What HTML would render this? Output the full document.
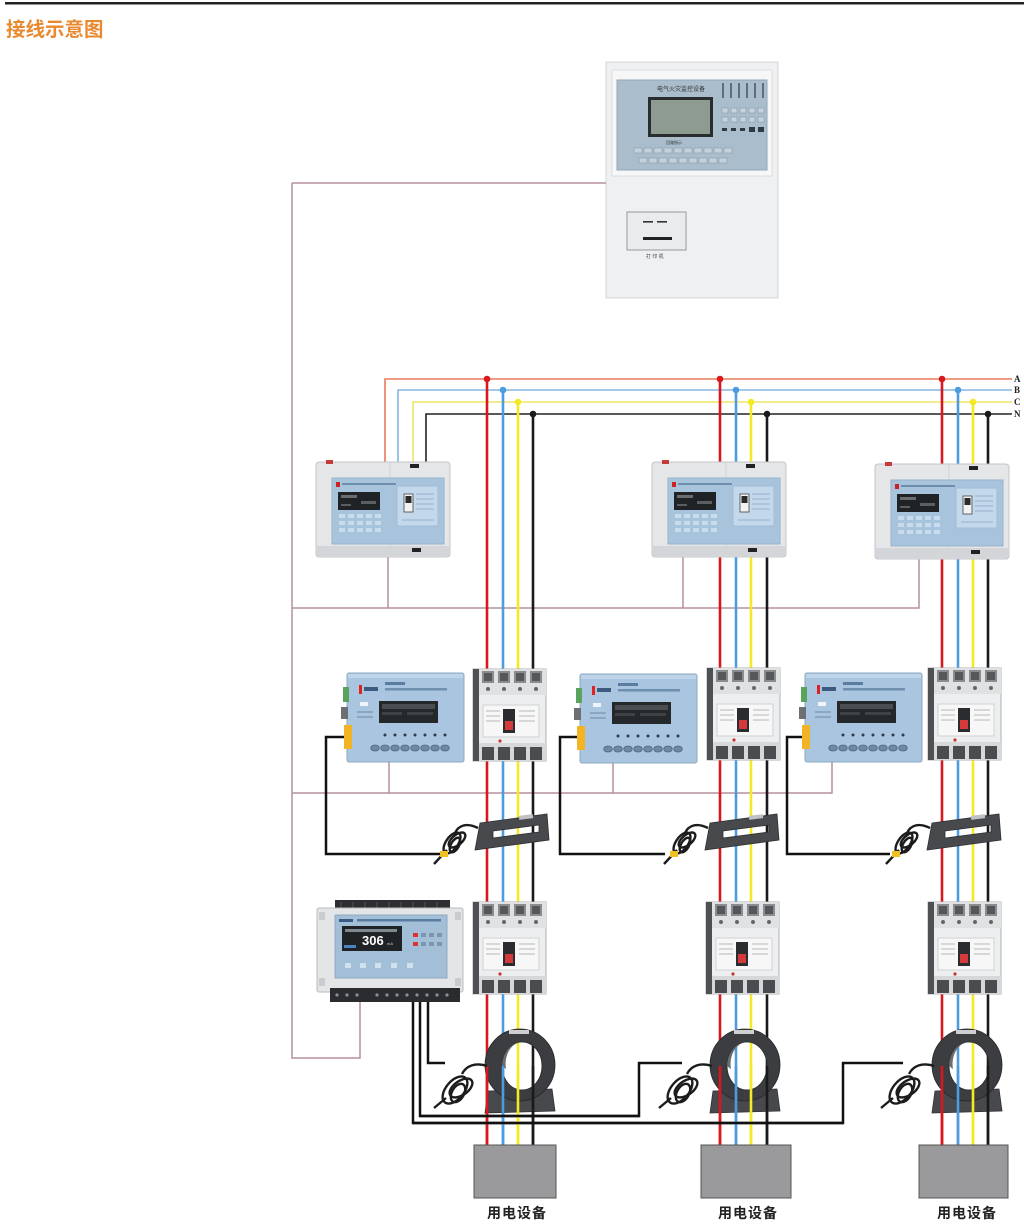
<!DOCTYPE html>
<html><head><meta charset="utf-8">
<style>
html,body{margin:0;padding:0;background:#fff;}
svg{display:block;}
</style></head><body>
<svg width="1024" height="1226" viewBox="0 0 1024 1226" xmlns="http://www.w3.org/2000/svg" xmlns:xlink="http://www.w3.org/1999/xlink">
<defs>
  <g id="devA">
    <rect x="0" y="2" width="134" height="95" rx="3" fill="#e4e6e8" stroke="#c2c4c7"/>
    <rect x="1" y="86" width="132" height="10" fill="#d3d5d8"/>
    <line x1="74" y1="3" x2="74" y2="96" stroke="#d0d2d5"/>
    <rect x="10" y="0" width="7" height="4" fill="#c83a3a"/>
    <rect x="16" y="18" width="112" height="66" fill="#a8c4dd" stroke="#98b3cc"/>
    <rect x="20" y="22" width="4" height="5" fill="#c22"/>
    <line x1="26" y1="24" x2="80" y2="24" stroke="#4a6c90" stroke-width="1.2"/>
    <rect x="22" y="32" width="42" height="18" fill="#1f2325"/>
    <rect x="25" y="35" width="16" height="3" fill="#6a6d70"/>
    <rect x="45" y="41" width="15" height="3" fill="#5c5f62"/>
    <rect x="25" y="44" width="10" height="2" fill="#5c5f62"/>
    <g fill="#c8dcee">
      <rect x="23" y="54" width="6" height="4"/><rect x="32" y="54" width="6" height="4"/><rect x="41" y="54" width="6" height="4"/><rect x="50" y="54" width="6" height="4"/><rect x="59" y="54" width="6" height="4"/>
      <rect x="23" y="61" width="6" height="4"/><rect x="32" y="61" width="6" height="4"/><rect x="41" y="61" width="6" height="4"/><rect x="50" y="61" width="6" height="4"/><rect x="59" y="61" width="6" height="4"/>
      <rect x="23" y="68" width="6" height="4"/><rect x="32" y="68" width="6" height="4"/><rect x="41" y="68" width="6" height="4"/><rect x="50" y="68" width="6" height="4"/><rect x="59" y="68" width="6" height="4"/>
    </g>
    <rect x="81" y="26" width="41" height="40" fill="#c3d8eb" stroke="#9fbcd6"/>
    <rect x="88" y="34" width="9" height="18" fill="#f2f2f2" stroke="#444" stroke-width="0.8"/>
    <rect x="89.5" y="36" width="6" height="7" fill="#2a2a2a"/>
    <g stroke="#86a6c4" stroke-width="0.8">
      <line x1="100" y1="34" x2="118" y2="34"/><line x1="100" y1="39" x2="118" y2="39"/><line x1="100" y1="44" x2="118" y2="44"/><line x1="100" y1="49" x2="118" y2="49"/><line x1="86" y1="60" x2="118" y2="60"/>
    </g>
    <rect x="94" y="4" width="9" height="4" fill="#222"/>
    <rect x="96" y="88" width="9" height="4" fill="#222"/>
  </g>
  <g id="devB">
    <rect x="0" y="0" width="117" height="89" rx="2" fill="#a9c5df" stroke="#8ea9c2"/>
    <rect x="1" y="1" width="115" height="4" fill="#bed4e8"/>
    <rect x="12" y="12" width="3" height="9" fill="#d22"/>
    <rect x="17" y="14" width="14" height="4" fill="#3b5b80"/>
    <rect x="38" y="9" width="20" height="3" fill="#5a7ca0"/>
    <rect x="38" y="15" width="62" height="2.5" fill="#6f8fb0"/>
    <rect x="13" y="29" width="8" height="4" fill="#eef4fa"/>
    <rect x="10" y="38" width="16" height="2" fill="#8aa6c0"/>
    <rect x="10" y="43" width="16" height="2" fill="#8aa6c0"/>
    <rect x="32" y="28" width="59" height="22" fill="#24282a"/>
    <rect x="35" y="31" width="53" height="5" fill="#4a4e51"/>
    <rect x="35" y="39" width="20" height="3" fill="#3e4245"/>
    <rect x="60" y="39" width="26" height="3" fill="#3e4245"/>
    <g fill="#2d3b4a">
      <circle cx="38" cy="62" r="1.5"/><circle cx="48" cy="62" r="1.5"/><circle cx="58" cy="62" r="1.5"/><circle cx="68" cy="62" r="1.5"/><circle cx="78" cy="62" r="1.5"/><circle cx="88" cy="62" r="1.5"/><circle cx="98" cy="62" r="1.5"/>
    </g>
    <g fill="#7088a2" stroke="#4f6680" stroke-width="0.8">
      <ellipse cx="28" cy="75" rx="4.3" ry="3"/><ellipse cx="38" cy="75" rx="4.3" ry="3"/><ellipse cx="48" cy="75" rx="4.3" ry="3"/><ellipse cx="58" cy="75" rx="4.3" ry="3"/><ellipse cx="68" cy="75" rx="4.3" ry="3"/><ellipse cx="78" cy="75" rx="4.3" ry="3"/><ellipse cx="88" cy="75" rx="4.3" ry="3"/><ellipse cx="98" cy="75" rx="4.3" ry="3"/>
    </g>
    <rect x="-4" y="14" width="6" height="15" fill="#5aa35c"/>
    <rect x="-6" y="34" width="7" height="12" fill="#6d6f72"/>
    <rect x="-3" y="52" width="8" height="24" fill="#f2b324"/>
  </g>
  <g id="brk">
    <rect x="0" y="0" width="73" height="92" fill="#eceef0" stroke="#aeb0b3"/>
    <rect x="0" y="0" width="6" height="92" fill="#4e5054"/>
    <rect x="6" y="0" width="67" height="26" fill="#dfe1e3"/>
    <g fill="#8a8c90"><rect x="9" y="2" width="12" height="12"/><rect x="25" y="2" width="12" height="12"/><rect x="41" y="2" width="12" height="12"/><rect x="57" y="2" width="12" height="12"/></g>
    <g fill="#55575b"><rect x="11" y="4" width="8" height="8"/><rect x="27" y="4" width="8" height="8"/><rect x="43" y="4" width="8" height="8"/><rect x="59" y="4" width="8" height="8"/></g>
    <g fill="#666"><circle cx="15" cy="20" r="2"/><circle cx="31" cy="20" r="2"/><circle cx="47" cy="20" r="2"/><circle cx="63" cy="20" r="2"/></g>
    <rect x="10" y="36" width="56" height="32" fill="#f7f7f7" stroke="#cfd1d3"/>
    <g stroke="#9a9c9f" stroke-width="0.7"><line x1="13" y1="42" x2="27" y2="42"/><line x1="13" y1="47" x2="27" y2="47"/><line x1="13" y1="52" x2="27" y2="52"/><line x1="46" y1="42" x2="62" y2="42"/><line x1="46" y1="47" x2="62" y2="47"/><line x1="46" y1="52" x2="62" y2="52"/></g>
    <rect x="30" y="40" width="12" height="24" fill="#2a2c30"/>
    <rect x="32" y="52" width="8" height="9" fill="#d43a3a"/>
    <circle cx="27" cy="72" r="1.6" fill="#c33"/>
    <rect x="6" y="74" width="67" height="18" fill="#d6d8da"/>
    <g fill="#4a4c50"><rect x="9" y="78" width="12" height="13"/><rect x="25" y="78" width="12" height="13"/><rect x="41" y="78" width="12" height="13"/><rect x="57" y="78" width="12" height="13"/></g>
  </g>
  <g id="rct">
    <path fill-rule="evenodd" fill="#47494c" stroke="#2e3033" stroke-width="0.8" d="M7,10 L74,1 L76,27 L2,37 Z M20,18 L66,12 L66,19 L20,25 Z"/>
    <rect x="46" y="2" width="14" height="4" fill="#bfc1c4" transform="rotate(-7 53 4)"/>
  </g>
  <g id="ring">
    <polygon points="3,62 67,60 70,82 0,84" fill="#47494c" stroke="#2e3033" stroke-width="0.8"/>
    <path fill-rule="evenodd" fill="#3b3d40" stroke="#26282a" stroke-width="0.8" d="M0,36 A35,36 0 1,0 70,36 A35,36 0 1,0 0,36 Z M17,37 A20,24 0 1,0 57,37 A20,24 0 1,0 17,37 Z"/>
    <path d="M17,37 A20,24 0 0,1 37,13 A17,22 0 0,0 21,40 Z" fill="#6a6d71"/>
    <rect x="24" y="1" width="20" height="4" fill="#cfcfcf"/>
  </g>
</defs>

<rect width="1024" height="1226" fill="#fff"/>
<rect x="5" y="2" width="1019" height="2.5" fill="#222"/>
<text x="6" y="36" font-family="Liberation Sans, Noto Sans CJK SC, sans-serif" font-size="19.5" font-weight="bold" fill="#e8892f">接线示意图</text>

<rect x="606" y="62" width="172" height="236" fill="#eef0f1" stroke="#d4d6d8"/>
<rect x="612" y="70" width="160" height="106" fill="#f7f7f7" stroke="#dcdcdc"/>
<rect x="617" y="80" width="150" height="90" fill="#a9bdcc" stroke="#93a7b7"/>
<text x="657" y="91" font-family="Liberation Sans, Noto Sans CJK SC, sans-serif" font-size="6" fill="#333">电气火灾监控设备</text>
<rect x="648" y="97" width="65" height="40" fill="#2a2d2e"/>
<rect x="651" y="100" width="59" height="34" fill="#8d9b90"/>
<g fill="#5d6f7e">
  <rect x="722" y="83" width="2" height="15"/><rect x="730" y="83" width="2" height="15"/><rect x="738" y="83" width="2" height="15"/><rect x="746" y="83" width="2" height="15"/><rect x="754" y="83" width="2" height="15"/><rect x="762" y="83" width="2" height="15"/>
</g>
<g fill="#c5d3de" stroke="#7f93a3" stroke-width="0.5">
  <rect x="722" y="108" width="6" height="5"/><rect x="731" y="108" width="6" height="5"/><rect x="740" y="108" width="6" height="5"/><rect x="749" y="108" width="6" height="5"/><rect x="758" y="108" width="6" height="5"/>
  <rect x="722" y="117" width="6" height="5"/><rect x="731" y="117" width="6" height="5"/><rect x="740" y="117" width="6" height="5"/><rect x="749" y="117" width="6" height="5"/><rect x="758" y="117" width="6" height="5"/>
</g>
<g fill="#2e3a44"><rect x="722" y="128" width="5" height="3"/><rect x="731" y="128" width="5" height="3"/><rect x="740" y="128" width="5" height="3"/><rect x="749" y="127" width="6" height="5"/><rect x="758" y="127" width="6" height="5"/></g>
<text x="666" y="144" font-family="Liberation Sans, Noto Sans CJK SC, sans-serif" font-size="4" fill="#333">回路指示</text>
<g fill="#c3d1dc" stroke="#8194a4" stroke-width="0.5">
  <rect x="634" y="148" width="8" height="5"/><rect x="644" y="148" width="8" height="5"/><rect x="654" y="148" width="8" height="5"/><rect x="664" y="148" width="8" height="5"/><rect x="674" y="148" width="8" height="5"/><rect x="684" y="148" width="8" height="5"/><rect x="694" y="148" width="8" height="5"/><rect x="704" y="148" width="8" height="5"/><rect x="714" y="148" width="8" height="5"/><rect x="724" y="148" width="8" height="5"/>
  <rect x="639" y="158" width="8" height="5"/><rect x="649" y="158" width="8" height="5"/><rect x="659" y="158" width="8" height="5"/><rect x="669" y="158" width="8" height="5"/><rect x="679" y="158" width="8" height="5"/><rect x="689" y="158" width="8" height="5"/><rect x="699" y="158" width="8" height="5"/><rect x="709" y="158" width="8" height="5"/><rect x="719" y="158" width="8" height="5"/>
</g>
<rect x="627" y="212" width="59" height="38" fill="#e9ebec" stroke="#999"/>
<rect x="643" y="221" width="10" height="1.6" fill="#333"/><rect x="657" y="221" width="10" height="1.6" fill="#333"/>
<rect x="643" y="237" width="29" height="3" fill="#222"/>
<text x="646" y="258" font-family="Liberation Sans, Noto Sans CJK SC, sans-serif" font-size="5" fill="#444">打 印 机</text>

<g stroke="#b58f9e" stroke-width="1.5" fill="none">
  <path d="M292,183 H606"/>
  <path d="M292,183 V1058 H360 V1002"/>
  <path d="M292,608 H919 V557"/>
  <path d="M388,608 V555"/>
  <path d="M683,608 V557"/>
  <path d="M292,793 H832 V762"/>
  <path d="M389,793 V762"/>
  <path d="M613,793 V760"/>
</g>

<g fill="none" stroke-width="1.6">
  <path d="M385,462 V379 H1012" stroke="#e87a5c"/>
  <path d="M398,462 V390 H1012" stroke="#86b6e2"/>
  <path d="M413,462 V402 H1012" stroke="#efe566"/>
  <path d="M426,462 V414 H1012" stroke="#222"/>
</g>
<g font-family="Liberation Serif, serif" font-size="9" font-weight="bold" fill="#222">
  <text x="1014" y="382">A</text><text x="1014" y="393">B</text><text x="1014" y="405">C</text><text x="1014" y="417">N</text>
</g>

<g stroke-width="2.6" fill="none">
  <path d="M487,379 V1145" stroke="#d7191f"/><path d="M503,390 V1145" stroke="#4d9be0"/><path d="M518,402 V1145" stroke="#f4e925"/><path d="M533,414 V1145" stroke="#1a1a1a"/>
  <path d="M720,379 V1145" stroke="#d7191f"/><path d="M736,390 V1145" stroke="#4d9be0"/><path d="M751,402 V1145" stroke="#f4e925"/><path d="M767,414 V1145" stroke="#1a1a1a"/>
  <path d="M942,379 V1145" stroke="#d7191f"/><path d="M958,390 V1145" stroke="#4d9be0"/><path d="M973,402 V1145" stroke="#f4e925"/><path d="M988,414 V1145" stroke="#1a1a1a"/>
</g>
<g>
  <circle cx="487" cy="379" r="3.3" fill="#d7191f"/><circle cx="503" cy="390" r="3.3" fill="#4d9be0"/><circle cx="518" cy="402" r="3.3" fill="#f4e925"/><circle cx="533" cy="414" r="3.3" fill="#1a1a1a"/>
  <circle cx="720" cy="379" r="3.3" fill="#d7191f"/><circle cx="736" cy="390" r="3.3" fill="#4d9be0"/><circle cx="751" cy="402" r="3.3" fill="#f4e925"/><circle cx="767" cy="414" r="3.3" fill="#1a1a1a"/>
  <circle cx="942" cy="379" r="3.3" fill="#d7191f"/><circle cx="958" cy="390" r="3.3" fill="#4d9be0"/><circle cx="973" cy="402" r="3.3" fill="#f4e925"/><circle cx="988" cy="414" r="3.3" fill="#1a1a1a"/>
</g>

<use href="#devA" xlink:href="#devA" x="316" y="460"/>
<use href="#devA" xlink:href="#devA" x="652" y="460"/>
<use href="#devA" xlink:href="#devA" x="875" y="462"/>

<g stroke="#111" stroke-width="2.5" fill="none">
  <path d="M346,737 H326 V854 H443"/>
  <path d="M580,737 H560 V854 H665"/>
  <path d="M805,737 H787 V854 H890"/>
</g>
<use href="#devB" xlink:href="#devB" x="347" y="673"/>
<use href="#devB" xlink:href="#devB" x="580" y="674"/>
<use href="#devB" xlink:href="#devB" x="805" y="673"/>
<use href="#brk" xlink:href="#brk" x="473" y="669"/>
<use href="#brk" xlink:href="#brk" x="707" y="668"/>
<use href="#brk" xlink:href="#brk" x="928" y="668"/>
<use href="#rct" xlink:href="#rct" x="473" y="813"/>
<use href="#rct" xlink:href="#rct" x="703" y="813"/>
<use href="#rct" xlink:href="#rct" x="925" y="813"/>
<g stroke="#1c1c1c" stroke-width="2.4" fill="none">
  <path d="M478,828 C466,822 458,826 455,833"/>
  <ellipse cx="452" cy="843" rx="12" ry="6" transform="rotate(-55 452 843)"/>
  <ellipse cx="457" cy="840" rx="10" ry="5" transform="rotate(-40 457 840)"/>
  <ellipse cx="455" cy="845" rx="8" ry="4" transform="rotate(-60 455 845)"/>
  <path d="M447,850 L434,864"/>
  <path d="M708,828 C696,822 688,826 685,833"/>
  <ellipse cx="682" cy="843" rx="12" ry="6" transform="rotate(-55 682 843)"/>
  <ellipse cx="687" cy="840" rx="10" ry="5" transform="rotate(-40 687 840)"/>
  <ellipse cx="685" cy="845" rx="8" ry="4" transform="rotate(-60 685 845)"/>
  <path d="M677,850 L664,864"/>
  <path d="M930,828 C918,822 910,826 907,833"/>
  <ellipse cx="904" cy="843" rx="12" ry="6" transform="rotate(-55 904 843)"/>
  <ellipse cx="909" cy="840" rx="10" ry="5" transform="rotate(-40 909 840)"/>
  <ellipse cx="907" cy="845" rx="8" ry="4" transform="rotate(-60 907 845)"/>
  <path d="M899,850 L886,864"/>
</g>
<rect x="440" y="851" width="8" height="6" fill="#f0c020"/>
<rect x="670" y="851" width="8" height="6" fill="#f0c020"/>
<rect x="892" y="851" width="8" height="6" fill="#f0c020"/>

<g stroke="#111" stroke-width="2.5" fill="none">
  <path d="M428,1002 V1063 H445"/>
  <path d="M420,1002 V1116 H639 V1063 H682"/>
  <path d="M413,1002 V1123 H843 V1063 H903"/>
</g>

<g transform="translate(317,900)">
  <rect x="18" y="0" width="115" height="12" fill="#2c2e31"/>
  <g stroke="#55585c" stroke-width="1"><line x1="24" y1="2" x2="24" y2="10"/><line x1="36" y1="2" x2="36" y2="10"/><line x1="48" y1="2" x2="48" y2="10"/><line x1="60" y1="2" x2="60" y2="10"/><line x1="72" y1="2" x2="72" y2="10"/><line x1="84" y1="2" x2="84" y2="10"/><line x1="96" y1="2" x2="96" y2="10"/><line x1="108" y1="2" x2="108" y2="10"/><line x1="120" y1="2" x2="120" y2="10"/></g>
  <rect x="0" y="8" width="146" height="84" rx="2" fill="#e3e5e7" stroke="#b9bbbe"/>
  <rect x="2" y="12" width="6" height="8" fill="#c9cbce"/><rect x="138" y="12" width="6" height="8" fill="#c9cbce"/>
  <rect x="2" y="78" width="6" height="8" fill="#c9cbce"/><rect x="138" y="78" width="6" height="8" fill="#c9cbce"/>
  <rect x="18" y="15" width="112" height="63" fill="#a3bfd7" stroke="#8eaac3"/>
  <rect x="22" y="19" width="14" height="3" fill="#3b5b80"/>
  <rect x="40" y="19" width="84" height="2.5" fill="#5a7ca0"/>
  <rect x="25" y="26" width="60" height="25" fill="#1f2326"/>
  <rect x="28" y="29" width="52" height="3" fill="#7e8a90"/>
  <text x="45" y="45" font-family="Liberation Sans, sans-serif" font-size="13" font-weight="bold" fill="#fff">306</text>
  <text x="70" y="45" font-family="Liberation Sans, sans-serif" font-size="4" fill="#ccc">mA</text>
  <rect x="27" y="45" width="12" height="3" fill="#4d82c0"/>
  <g fill="#d33"><rect x="96" y="33" width="5" height="4"/><rect x="96" y="42" width="5" height="4"/></g>
  <g fill="#7b95ad"><rect x="104" y="33" width="5" height="4"/><rect x="112" y="33" width="5" height="4"/><rect x="120" y="33" width="5" height="4"/><rect x="104" y="42" width="5" height="4"/><rect x="112" y="42" width="5" height="4"/><rect x="120" y="42" width="5" height="4"/></g>
  <g fill="#cfe0ee"><rect x="28" y="63" width="6" height="5"/><rect x="43" y="63" width="6" height="5"/><rect x="58" y="63" width="6" height="5"/><rect x="74" y="63" width="6" height="5"/><rect x="90" y="63" width="6" height="5"/></g>
  <rect x="13" y="88" width="130" height="14" fill="#2a2c2f"/>
  <g fill="#8d9093"><circle cx="20" cy="95" r="1.6"/><circle cx="30" cy="95" r="1.6"/><circle cx="40" cy="95" r="1.6"/><circle cx="60" cy="95" r="1.6"/><circle cx="70" cy="95" r="1.6"/><circle cx="80" cy="95" r="1.6"/><circle cx="90" cy="95" r="1.6"/><circle cx="100" cy="95" r="1.6"/><circle cx="110" cy="95" r="1.6"/><circle cx="120" cy="95" r="1.6"/><circle cx="130" cy="95" r="1.6"/></g>
</g>

<use href="#brk" xlink:href="#brk" x="473" y="902"/>
<use href="#brk" xlink:href="#brk" x="706" y="902"/>
<use href="#brk" xlink:href="#brk" x="928" y="902"/>

<use href="#ring" xlink:href="#ring" x="485" y="1029"/>
<use href="#ring" xlink:href="#ring" x="710" y="1029"/>
<use href="#ring" xlink:href="#ring" x="932" y="1029"/>
<g stroke-width="2.6" fill="none">
  <path d="M487,1066 V1145" stroke="#d7191f"/><path d="M503,1066 V1145" stroke="#4d9be0"/><path d="M518,1066 V1145" stroke="#f4e925"/><path d="M533,1066 V1145" stroke="#1a1a1a"/>
  <path d="M720,1066 V1145" stroke="#d7191f"/><path d="M736,1066 V1145" stroke="#4d9be0"/><path d="M751,1066 V1145" stroke="#f4e925"/><path d="M767,1066 V1145" stroke="#1a1a1a"/>
  <path d="M942,1066 V1145" stroke="#d7191f"/><path d="M958,1066 V1145" stroke="#4d9be0"/><path d="M973,1066 V1145" stroke="#f4e925"/><path d="M988,1066 V1145" stroke="#1a1a1a"/>
</g>
<g stroke="#111" stroke-width="2.5" fill="none">
  <path d="M413,1123 H843"/><path d="M420,1116 H639"/>
</g>
<g stroke="#1c1c1c" stroke-width="2.4" fill="none">
  <path d="M487,1066 C475,1062 466,1066 462,1074"/>
  <ellipse cx="455" cy="1090" rx="16" ry="9" transform="rotate(-50 455 1090)"/>
  <ellipse cx="461" cy="1088" rx="13" ry="7" transform="rotate(-35 461 1088)"/>
  <ellipse cx="458" cy="1093" rx="10" ry="6" transform="rotate(-60 458 1093)"/>
  <path d="M446,1098 L434,1108"/>
  <path d="M712,1066 C700,1062 691,1066 687,1074"/>
  <ellipse cx="680" cy="1090" rx="16" ry="9" transform="rotate(-50 680 1090)"/>
  <ellipse cx="686" cy="1088" rx="13" ry="7" transform="rotate(-35 686 1088)"/>
  <ellipse cx="683" cy="1093" rx="10" ry="6" transform="rotate(-60 683 1093)"/>
  <path d="M671,1098 L659,1108"/>
  <path d="M934,1066 C922,1062 913,1066 909,1074"/>
  <ellipse cx="902" cy="1090" rx="16" ry="9" transform="rotate(-50 902 1090)"/>
  <ellipse cx="908" cy="1088" rx="13" ry="7" transform="rotate(-35 908 1088)"/>
  <ellipse cx="905" cy="1093" rx="10" ry="6" transform="rotate(-60 905 1093)"/>
  <path d="M893,1098 L881,1108"/>
</g>

<g fill="#9a9a9c" stroke="#555" stroke-width="1">
  <rect x="474" y="1145" width="82" height="53"/>
  <rect x="701" y="1145" width="90" height="53"/>
  <rect x="919" y="1145" width="89" height="53"/>
</g>
<g font-family="Liberation Sans, Noto Sans CJK SC, sans-serif" font-size="14" font-weight="bold" fill="#222" text-anchor="middle" letter-spacing="1">
  <text x="517" y="1218">用电设备</text>
  <text x="748" y="1218">用电设备</text>
  <text x="967" y="1218">用电设备</text>
</g>
</svg>
</body></html>
